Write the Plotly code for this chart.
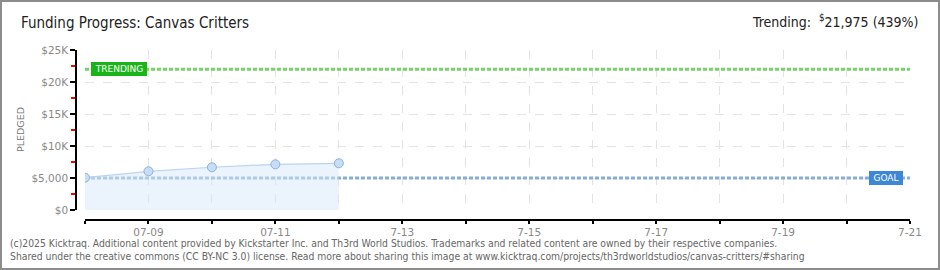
import plotly.graph_objects as go

# ---- data ----
dates = ["2025-07-08", "2025-07-09", "2025-07-10", "2025-07-11", "2025-07-12"]
pledged = [5050, 6050, 6680, 7140, 7300]
goal = 5000
trending = 21975
range_start = "2025-07-08"
range_end = "2025-07-21"
tick_dates = ["2025-07-%02d" % d for d in range(8, 22)]
tick_labels = ["", "07-09", "", "07-11", "", "7-13", "", "7-15", "", "7-17", "", "7-19", "", "7-21"]
y_ticks = [0, 5000, 10000, 15000, 20000, 25000]
y_labels = ["$0", "$5,000", "$10K", "$15K", "$20K", "$25K"]

W, H = 940, 270
L, R, T, B = 76, 30, 50, 50
PW, PH = W - L - R, H - T - B


def px(x):
    return (x - L) / PW


def py(y):
    return (H - B - y) / PH


fig = go.Figure()

# goal line
fig.add_trace(go.Scatter(x=[range_start, range_end], y=[goal, goal], mode="lines",
                         line=dict(color="#86acd9", width=3, dash="4px,2px"),
                         hoverinfo="skip", showlegend=False))
# trending line
fig.add_trace(go.Scatter(x=[range_start, range_end], y=[trending, trending], mode="lines",
                         line=dict(color="#74d464", width=3, dash="4px,2px"),
                         hoverinfo="skip", showlegend=False))
# pledged
fig.add_trace(go.Scatter(x=dates, y=pledged, mode="lines+markers",
                         line=dict(color="#b9d5f2", width=1.2),
                         fill="tozeroy", fillcolor="rgba(215,231,249,0.5)",
                         marker=dict(size=9, color="#c6ddf6", line=dict(color="#8fb0d6", width=1)),
                         showlegend=False))

fig.update_layout(
    width=W, height=H,
    margin=dict(l=L, r=R, t=T, b=B),
    paper_bgcolor="white", plot_bgcolor="white",
    font=dict(family="DejaVu Sans", color="#777"),
    xaxis=dict(
        type="date", range=[range_start, range_end],
        domain=[9 / PW, 1],
        anchor="free", position=0,
        tickvals=tick_dates, ticktext=tick_labels,
        ticks="outside", ticklen=3, tickcolor="black", tickwidth=1.5,
        showline=True, linecolor="black", linewidth=1.5,
        showgrid=True, gridcolor="#e3e3e3", griddash="dash", gridwidth=1,
        zeroline=False,
        tickfont=dict(size=10.5, color="#888"),
    ),
    yaxis=dict(
        range=[0, 25000],
        domain=[10 / PH, 1],
        anchor="free", position=0,
        tickvals=y_ticks, ticktext=y_labels,
        ticks="outside", ticklen=5, tickcolor="black", tickwidth=1.5,
        showline=True, linecolor="black", linewidth=1.5,
        showgrid=True, gridcolor="#e3e3e3", griddash="dash", gridwidth=1,
        zeroline=False,
        tickfont=dict(size=10.5, color="#888"),
        minor=dict(dtick=2500, tick0=0, ticks="outside", ticklen=4, tickcolor="red", tickwidth=1.5, showgrid=False),
    ),
    annotations=[
        dict(text="Funding Progress: Canvas Critters", xref="paper", yref="paper",
             x=px(19), y=py(23), xanchor="left", yanchor="middle", showarrow=False,
             font=dict(family="DejaVu Sans Condensed", size=15, color="#222")),
        dict(text="Trending:  <sup>$</sup>21,975 (439%)", xref="paper", yref="paper",
             x=px(920), y=py(21), xanchor="right", yanchor="middle", showarrow=False,
             font=dict(family="DejaVu Sans Condensed", size=14, color="#222")),
        dict(text="PLEDGED", xref="paper", yref="paper", x=px(20), y=py(130),
             textangle=-90, showarrow=False, xanchor="center", yanchor="middle",
             font=dict(size=9.5, color="#777")),
        dict(text="TRENDING", x="2025-07-08 13:00", y=trending, xref="x", yref="y",
             showarrow=False, bgcolor="#18b418", bordercolor="#18b418", borderpad=1,
             font=dict(size=9, color="white", family="DejaVu Sans"), width=52),
        dict(text="GOAL", x="2025-07-20 15:00", y=goal, xref="x", yref="y",
             showarrow=False, bgcolor="#3d87d6", bordercolor="#3d87d6", borderpad=1,
             font=dict(size=9, color="white", family="DejaVu Sans"), width=30),
        dict(text="(c)2025 Kicktraq. Additional content provided by Kickstarter Inc. and Th3rd World Studios. Trademarks and related content are owned by their respective companies.<br>"
                  "Shared under the creative commons (CC BY-NC 3.0) license. Read more about sharing this image at www.kicktraq.com/projects/th3rdworldstudios/canvas-critters/#sharing",
             xref="paper", yref="paper", x=px(8), y=py(249), xanchor="left", yanchor="middle",
             align="left", showarrow=False,
             font=dict(family="DejaVu Sans Condensed", size=10.3, color="#666")),
    ],
    shapes=[
        dict(type="rect", xref="paper", yref="paper", x0=px(1), x1=px(W - 1), y0=py(H - 1), y1=py(1),
             line=dict(color="#8c8c8c", width=2), fillcolor="rgba(0,0,0,0)", layer="above"),
    ],
)

fig.write_html("out.html")
